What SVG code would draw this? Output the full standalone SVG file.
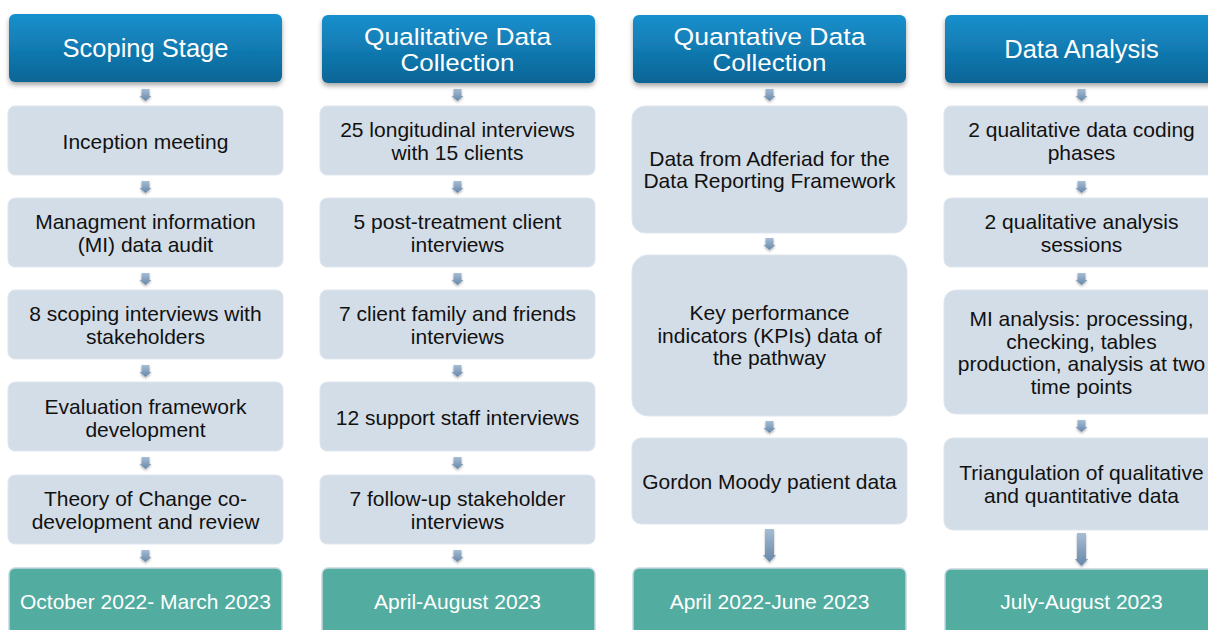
<svg xmlns="http://www.w3.org/2000/svg" xmlns:xlink="http://www.w3.org/1999/xlink" width="1208" height="630" viewBox="0 0 1208 630">
<defs>
  <linearGradient id="hg" x1="0" y1="0" x2="0" y2="1">
    <stop offset="0" stop-color="#1690cd"/>
    <stop offset="1" stop-color="#0d6596"/>
  </linearGradient>
  <linearGradient id="ag" x1="0" y1="0" x2="0" y2="1">
    <stop offset="0" stop-color="#a6bdd4"/>
    <stop offset="1" stop-color="#6787aa"/>
  </linearGradient>
  <filter id="sh" x="-10%" y="-20%" width="120%" height="150%">
    <feDropShadow dx="0" dy="3" stdDeviation="2.5" flood-color="#000" flood-opacity="0.35"/>
  </filter>
  <filter id="ash" x="-50%" y="-30%" width="200%" height="170%">
    <feDropShadow dx="0" dy="1.5" stdDeviation="1.2" flood-color="#000" flood-opacity="0.3"/>
  </filter>
  <path id="arrS" d="M-4,0 H4 V7 H6 L0,12 L-6,7 H-4 Z"/>
  <path id="arrL" d="M-4.5,0 H4.5 V26 H6.5 L0,33 L-6.5,26 H-4.5 Z"/>
</defs>
<style>
  .hd { fill: url(#hg); filter: url(#sh); }
  .bx { fill: #d3dde7; stroke: #dfe6ee; stroke-width: 1; }
  .gr { fill: #52ac9f; stroke: #c6d7df; stroke-width: 1.5; }
  .ar { fill: url(#ag); filter: url(#ash); }
  text { font-family: "Liberation Sans", Arial, sans-serif; text-anchor: middle; }
  .ht { fill: #ffffff; font-size: 25.5px; }
  .ht2 { fill: #ffffff; font-size: 24.5px; }
  .bt { fill: #111111; font-size: 21px; }
  .gt { fill: #ffffff; font-size: 21px; }
</style>

<g id="connectors">
  <use xlink:href="#arrS" href="#arrS" class="ar" x="145.5" y="89"/>
  <use xlink:href="#arrS" href="#arrS" class="ar" x="145.5" y="181"/>
  <use xlink:href="#arrS" href="#arrS" class="ar" x="145.5" y="273"/>
  <use xlink:href="#arrS" href="#arrS" class="ar" x="145.5" y="365"/>
  <use xlink:href="#arrS" href="#arrS" class="ar" x="145.5" y="457"/>
  <use xlink:href="#arrS" href="#arrS" class="ar" x="145.5" y="550"/>

  <use xlink:href="#arrS" href="#arrS" class="ar" x="457.5" y="89"/>
  <use xlink:href="#arrS" href="#arrS" class="ar" x="457.5" y="181"/>
  <use xlink:href="#arrS" href="#arrS" class="ar" x="457.5" y="273"/>
  <use xlink:href="#arrS" href="#arrS" class="ar" x="457.5" y="365"/>
  <use xlink:href="#arrS" href="#arrS" class="ar" x="457.5" y="457"/>
  <use xlink:href="#arrS" href="#arrS" class="ar" x="457.5" y="550"/>

  <use xlink:href="#arrS" href="#arrS" class="ar" x="769.5" y="89"/>
  <use xlink:href="#arrS" href="#arrS" class="ar" x="769.5" y="238"/>
  <use xlink:href="#arrS" href="#arrS" class="ar" x="769.5" y="421"/>
  <use xlink:href="#arrL" href="#arrL" class="ar" x="769.5" y="529"/>

  <use xlink:href="#arrS" href="#arrS" class="ar" x="1081.5" y="89"/>
  <use xlink:href="#arrS" href="#arrS" class="ar" x="1081.5" y="181"/>
  <use xlink:href="#arrS" href="#arrS" class="ar" x="1081.5" y="273"/>
  <use xlink:href="#arrS" href="#arrS" class="ar" x="1081.5" y="420"/>
  <use xlink:href="#arrL" href="#arrL" class="ar" x="1081.5" y="533"/>
</g>

<!-- Column 1 -->
<g id="scoping-header">
  <rect class="hd" x="9" y="14" width="273" height="68" rx="6"/>
  <text class="ht" x="145.5" y="57">Scoping Stage</text>
</g>
<g id="inception">
  <rect class="bx" x="8" y="106" width="275" height="69" rx="7"/>
  <text class="bt" x="145.5" y="148.5">Inception meeting</text>
</g>
<g id="mi-audit">
  <rect class="bx" x="8" y="198" width="275" height="69" rx="7"/>
  <text class="bt" x="145.5" y="229">Managment information</text>
  <text class="bt" x="145.5" y="252">(MI) data audit</text>
</g>
<g id="scoping-interviews">
  <rect class="bx" x="8" y="290" width="275" height="69" rx="7"/>
  <text class="bt" x="145.5" y="321">8 scoping interviews with</text>
  <text class="bt" x="145.5" y="344">stakeholders</text>
</g>
<g id="eval-framework">
  <rect class="bx" x="8" y="382" width="275" height="69" rx="7"/>
  <text class="bt" x="145.5" y="413.5">Evaluation framework</text>
  <text class="bt" x="145.5" y="436.5">development</text>
</g>
<g id="theory-of-change">
  <rect class="bx" x="8" y="475" width="275" height="69" rx="7"/>
  <text class="bt" x="145.5" y="505.5">Theory of Change co-</text>
  <text class="bt" x="145.5" y="528.5">development and review</text>
</g>
<g id="date-1">
  <rect class="gr" x="9" y="568" width="273" height="80" rx="6"/>
  <text class="gt" x="145.5" y="609">October 2022- March 2023</text>
</g>

<!-- Column 2 -->
<g id="qual-header">
  <rect class="hd" x="322" y="15" width="273" height="68" rx="6"/>
  <text class="ht2" x="457.5" y="44.5" textLength="187" lengthAdjust="spacingAndGlyphs">Qualitative Data</text>
  <text class="ht2" x="457.5" y="71" textLength="114" lengthAdjust="spacingAndGlyphs">Collection</text>
</g>
<g id="longitudinal">
  <rect class="bx" x="320" y="106" width="275" height="69" rx="7"/>
  <text class="bt" x="457.5" y="136.5">25 longitudinal interviews</text>
  <text class="bt" x="457.5" y="159.5">with 15 clients</text>
</g>
<g id="post-treatment">
  <rect class="bx" x="320" y="198" width="275" height="69" rx="7"/>
  <text class="bt" x="457.5" y="228.5">5 post-treatment client</text>
  <text class="bt" x="457.5" y="251.5">interviews</text>
</g>
<g id="family-friends">
  <rect class="bx" x="320" y="290" width="275" height="69" rx="7"/>
  <text class="bt" x="457.5" y="320.5">7 client family and friends</text>
  <text class="bt" x="457.5" y="343.5">interviews</text>
</g>
<g id="support-staff">
  <rect class="bx" x="320" y="382" width="275" height="69" rx="7"/>
  <text class="bt" x="457.5" y="424.5">12 support staff interviews</text>
</g>
<g id="follow-up">
  <rect class="bx" x="320" y="475" width="275" height="69" rx="7"/>
  <text class="bt" x="457.5" y="505.5">7 follow-up stakeholder</text>
  <text class="bt" x="457.5" y="528.5">interviews</text>
</g>
<g id="date-2">
  <rect class="gr" x="322" y="568" width="273" height="80" rx="6"/>
  <text class="gt" x="457.5" y="609">April-August 2023</text>
</g>

<!-- Column 3 -->
<g id="quant-header">
  <rect class="hd" x="633" y="15" width="273" height="68" rx="6"/>
  <text class="ht2" x="769.5" y="44.5" textLength="192" lengthAdjust="spacingAndGlyphs">Quantative Data</text>
  <text class="ht2" x="769.5" y="71" textLength="114" lengthAdjust="spacingAndGlyphs">Collection</text>
</g>
<g id="adferiad">
  <rect class="bx" x="632" y="106" width="275" height="127" rx="13"/>
  <text class="bt" x="769.5" y="165.5">Data from Adferiad for the</text>
  <text class="bt" x="769.5" y="188">Data Reporting Framework</text>
</g>
<g id="kpis">
  <rect class="bx" x="632" y="255" width="275" height="161" rx="16"/>
  <text class="bt" x="769.5" y="319.5">Key performance</text>
  <text class="bt" x="769.5" y="342.5">indicators (KPIs) data of</text>
  <text class="bt" x="769.5" y="365">the pathway</text>
</g>
<g id="gordon-moody">
  <rect class="bx" x="632" y="438" width="275" height="86" rx="9"/>
  <text class="bt" x="769.5" y="488.5">Gordon Moody patient data</text>
</g>
<g id="date-3">
  <rect class="gr" x="633" y="568" width="273" height="80" rx="6"/>
  <text class="gt" x="769.5" y="609">April 2022-June 2023</text>
</g>

<!-- Column 4 -->
<g id="analysis-header">
  <rect class="hd" x="945" y="15" width="273" height="68" rx="6"/>
  <text class="ht" x="1081.5" y="57.5">Data Analysis</text>
</g>
<g id="coding-phases">
  <rect class="bx" x="944" y="106" width="275" height="69" rx="7"/>
  <text class="bt" x="1081.5" y="136.5">2 qualitative data coding</text>
  <text class="bt" x="1081.5" y="159.5">phases</text>
</g>
<g id="analysis-sessions">
  <rect class="bx" x="944" y="198" width="275" height="69" rx="7"/>
  <text class="bt" x="1081.5" y="228.5">2 qualitative analysis</text>
  <text class="bt" x="1081.5" y="251.5">sessions</text>
</g>
<g id="mi-analysis">
  <rect class="bx" x="944" y="290" width="275" height="124" rx="12"/>
  <text class="bt" x="1081.5" y="325.5">MI analysis: processing,</text>
  <text class="bt" x="1081.5" y="348.5">checking, tables</text>
  <text class="bt" x="1081.5" y="370.5">production, analysis at two</text>
  <text class="bt" x="1081.5" y="393.5">time points</text>
</g>
<g id="triangulation">
  <rect class="bx" x="944" y="438" width="275" height="92" rx="9"/>
  <text class="bt" x="1081.5" y="479.5">Triangulation of qualitative</text>
  <text class="bt" x="1081.5" y="502.5">and quantitative data</text>
</g>
<g id="date-4">
  <rect class="gr" x="945" y="569" width="273" height="80" rx="6"/>
  <text class="gt" x="1081.5" y="609">July-August 2023</text>
</g>
</svg>
